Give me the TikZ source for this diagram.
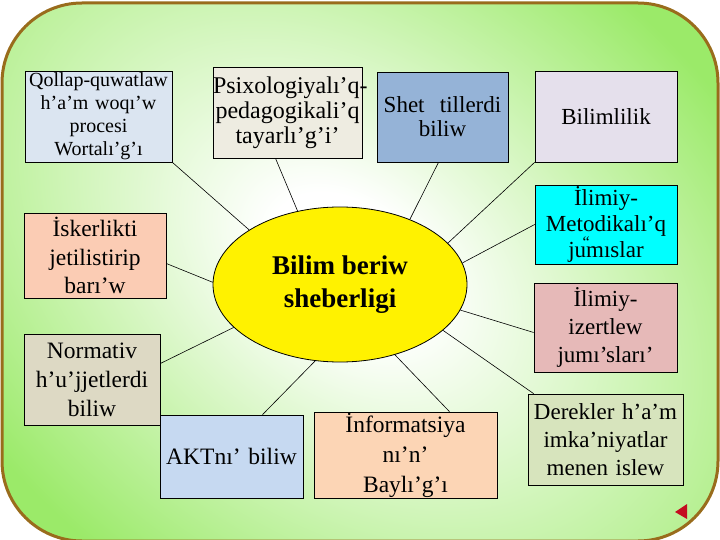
\documentclass[tikz,border=0pt]{standalone}
\usepackage{fontspec}
\setmainfont{Liberation Serif}
\usetikzlibrary{shapes.geometric,calc}
\definecolor{framebrown}{RGB}{153,108,28}
\definecolor{glowgreen}{RGB}{155,234,105}
\definecolor{qollapfill}{RGB}{219,229,241}
\definecolor{psixofill}{RGB}{238,236,225}
\definecolor{shetfill}{RGB}{149,179,215}
\definecolor{bilimfill}{RGB}{229,224,236}
\definecolor{metodfill}{RGB}{0,255,255}
\definecolor{izertfill}{RGB}{230,185,184}
\definecolor{derekfill}{RGB}{215,228,189}
\definecolor{infofill}{RGB}{252,213,181}
\definecolor{aktfill}{RGB}{198,217,241}
\definecolor{normfill}{RGB}{221,217,196}
\definecolor{iskerfill}{RGB}{251,204,180}
\definecolor{navred}{RGB}{196,12,32}
\pgfdeclareradialshading{glow}{\pgfpoint{0bp}{0bp}}{color(0bp)=(white); color(4bp)=(white); color(25bp)=(glowgreen); color(50bp)=(glowgreen)}

\begin{document}
\begin{tikzpicture}[x=1pt,y=-1pt,
    box/.style={draw=black, line width=0.7pt, inner sep=0pt, align=center,
      font=\fontsize{23}{28}\selectfont},
    link/.style={line width=0.6pt}]
  \useasboundingbox (0,0) rectangle (720,540);
  \fill[white] (0,0) rectangle (720,540);
  \begin{scope}
    \clip[rounded corners=80pt] (2,3) rectangle (718,541);
    \fill[glowgreen] (0,0) rectangle (720,545);
    \begin{scope}[transform canvas={shift={(350,265)}, rotate=-37}]
      \shade[shading=glow] (-560,-380) rectangle (560,380);
    \end{scope}
  \end{scope}
  \draw[framebrown, line width=3pt, rounded corners=80pt] (2,3) rectangle (718,541);

  \node[box, fill=qollapfill, text width=147pt, minimum height=91pt,
    font=\fontsize{20}{23}\selectfont] (qollap) at (98.5,116.5)
    {Qollap-quwatlaw\\h’a’m woqı’w\\procesi\\Wortalı’g’ı};
  \node[box, fill=psixofill, text width=149pt, minimum height=91pt,
    font=\fontsize{24}{25}\selectfont] (psixo) at (287.5,112.5)
    {\mbox{Psixologiyalı’q-}\\\mbox{pedagogikali’q}\\tayarlı’g’i’};
  \node[box, fill=shetfill, text width=131pt, minimum height=90pt,
    font=\fontsize{23}{24}\selectfont] (shet) at (442.5,117)
    {Shet\ \ tillerdi\\biliw};
  \node[box, fill=bilimfill, text width=142pt, minimum height=91pt] (bilimlilik) at (606,116.5)
    {Bilimlilik};
  \node[box, fill=metodfill, text width=142pt, minimum height=79pt,
    font=\fontsize{23}{26}\selectfont] (metodika) at (606,224.5)
    {İlimiy-\\Metodikalı’q\\ju\makebox[0pt]{\raisebox{10pt}{\fontsize{16}{16}\selectfont “}}mıslar};
  \node[box, fill=izertfill, text width=143pt, minimum height=89pt] (izertlew) at (605.5,327.5)
    {İlimiy-\\izertlew\\jumı’sları’};
  \node[box, fill=derekfill, text width=155pt, minimum height=91pt] (derekler) at (605.5,439.5)
    {Derekler h’a’m\\imka’niyatlar\\menen islew};
  \node[box, fill=infofill, text width=183pt, minimum height=86pt,
    font=\fontsize{23.5}{30}\selectfont] (info) at (405.5,455)
    {İnformatsiya\\nı’n’\\Baylı’g’ı};
  \node[box, fill=aktfill, text width=143pt, minimum height=83pt,
    font=\fontsize{23.5}{28}\selectfont] (akt) at (231.5,456.5)
    {AKTnı’ biliw};
  \node[box, fill=normfill, text width=136pt, minimum height=91pt,
    font=\fontsize{23.5}{29}\selectfont] (normativ) at (92,379.5)
    {Normativ\\h’u’jjetlerdi\\biliw};
  \node[box, fill=iskerfill, text width=142pt, minimum height=85pt,
    font=\fontsize{23.5}{28.5}\selectfont] (iskerlikti) at (95,255.5)
    {İskerlikti\\jetilistirip\\barı’w};

  \node[ellipse, draw=black, line width=0.8pt, fill=yellow, minimum width=254pt,
    minimum height=155pt, align=center, font=\fontsize{27}{33}\selectfont\bfseries]
    (bilim) at (340,284.5) {Bilim beriw\\sheberligi};

  \draw[link] (qollap.south east) -- (bilim.149);
  \draw[link] ([xshift=-12pt]psixo.south) -- (bilim.120);
  \draw[link] ([xshift=-4pt]shet.south) -- (bilim.43);
  \draw[link] (bilimlilik.south west) -- (bilim.21);
  \draw[link] (metodika.west) -- (bilim.10);
  \draw[link] ([yshift=-5pt]izertlew.west) -- (bilim.-12);
  \draw[link] ([xshift=6pt]derekler.north west) -- (bilim.-24);
  \draw[link] ([xshift=44pt]info.north) -- (bilim.-52);
  \draw[link] ([xshift=31pt]akt.north) -- (bilim.-108);
  \draw[link] ([yshift=16pt]normativ.east) -- (bilim.-158);
  \draw[link] ([yshift=-8pt]iskerlikti.east) -- (bilim.179);

  \fill[navred] (675,512) -- (687,504) -- (687,519) -- cycle;
\end{tikzpicture}
\end{document}
